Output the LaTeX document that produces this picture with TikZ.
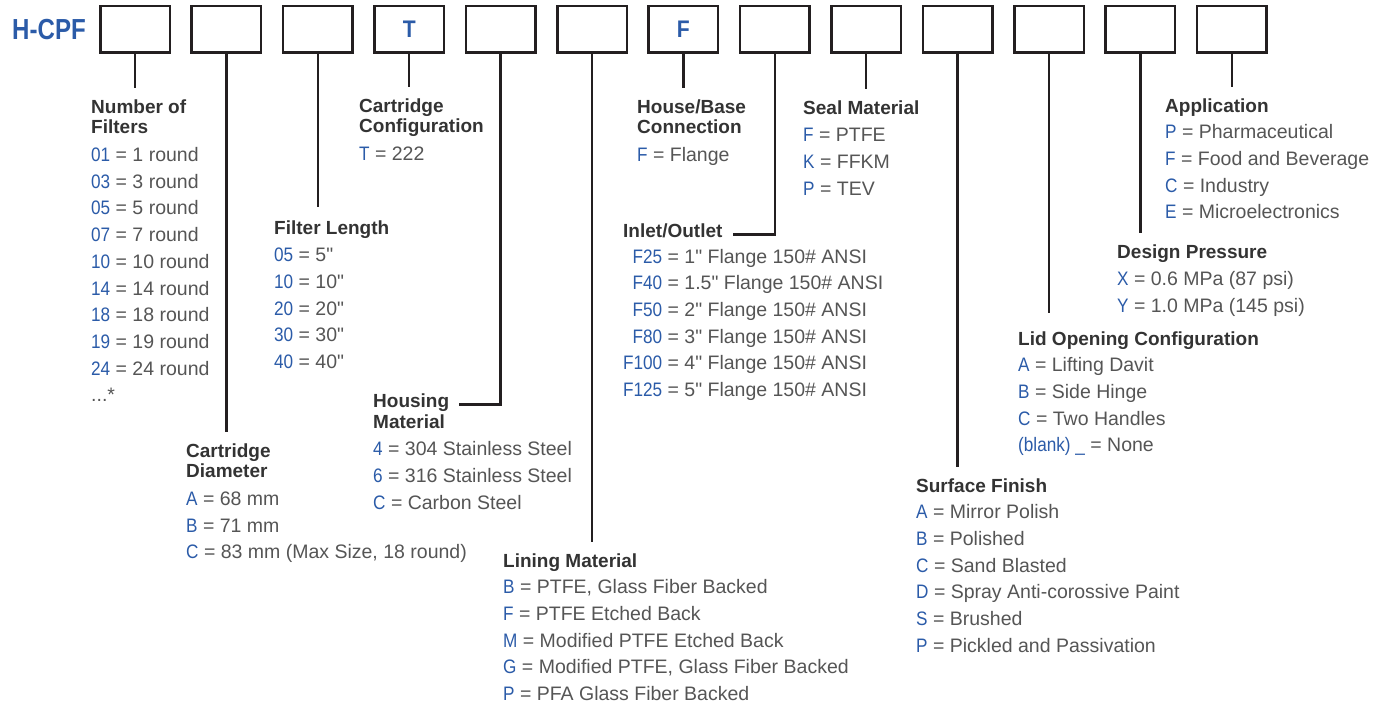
\documentclass[tikz,border=0pt]{standalone}
\usepackage{fontspec}
\setmainfont{Liberation Sans}
\newfontfamily\quotefont{Liberation Sans}
\usepackage{graphicx}

\definecolor{codeblue}{HTML}{2B5BA8}
\definecolor{headgray}{HTML}{333333}
\definecolor{textgray}{HTML}{555555}
\definecolor{linegray}{HTML}{231F20}

\newcommand{\cd}[1]{\textcolor{codeblue}{\scalebox{0.88}[1]{#1}}}
\newcommand{\hd}[1]{{\color{headgray}\fontsize{19}{26.7}\bfseries #1}}
\newcommand{\rcd}[1]{\makebox[39pt][r]{\cd{#1}}}
\newcommand{\inch}{{\quotefont"}}

\tikzset{
  slot/.style={draw=linegray,line width=2.5pt,minimum width=69.5pt,minimum height=46.5pt,inner sep=0pt},
  slotcode/.style={text=codeblue,font=\fontsize{24}{24}\bfseries},
  block/.style={anchor=north west,align=left,inner sep=0pt,text=textgray,font=\fontsize{19.5}{26.7}\selectfont},
  lead/.style={draw=linegray,line width=2.3pt,shorten >=6.5pt}
}

\begin{document}
\begin{tikzpicture}[x=1pt,y=-1pt]
  \useasboundingbox (0,0) rectangle (1388,706);

  % Title
  \node[text=codeblue,font=\fontsize{29}{29}\bfseries] (hcpf) at (49,30) {\scalebox{0.83}[1]{H-CPF}};

  % Code boxes
  \node[slot] (b1) at (135,29.5) {};
  \node[slot] (b2) at (226.4,29.5) {};
  \node[slot] (b3) at (317.8,29.5) {};
  \node[slot,slotcode] (b4) at (409.2,29.5) {\scalebox{0.88}[1]{T}};
  \node[slot] (b5) at (500.6,29.5) {};
  \node[slot] (b6) at (592,29.5) {};
  \node[slot,slotcode] (b7) at (683.4,29.5) {\scalebox{0.88}[1]{F}};
  \node[slot] (b8) at (774.8,29.5) {};
  \node[slot] (b9) at (866.2,29.5) {};
  \node[slot] (b10) at (957.6,29.5) {};
  \node[slot] (b11) at (1049,29.5) {};
  \node[slot] (b12) at (1140.4,29.5) {};
  \node[slot] (b13) at (1231.8,29.5) {};

  % Option lists (top of each node = first baseline - 18.7)
  \begin{scope}[every node/.style={block}]
    \node (nof) at (91,94.3) {\strut\hd{Number of}\\[-6pt]\hd{Filters}\\[1pt]
      \cd{01} = 1 round\\ \cd{03} = 3 round\\ \cd{05} = 5 round\\
      \cd{07} = 7 round\\ \cd{10} = 10 round\\ \cd{14} = 14 round\\
      \cd{18} = 18 round\\ \cd{19} = 19 round\\ \cd{24} = 24 round\\ ...*};
    \node (cdia) at (186,438.3) {\strut\hd{Cartridge}\\[-6pt]\hd{Diameter}\\[1pt]
      \cd{A} = 68 mm\\ \cd{B} = 71 mm\\ \cd{C} = 83 mm (Max Size, 18 round)};
    \node (flen) at (274,215.3) {\strut\hd{Filter Length}\\[1pt]
      \cd{05} = 5\inch\\ \cd{10} = 10\inch\\ \cd{20} = 20\inch\\ \cd{30} = 30\inch\\ \cd{40} = 40\inch};
    \node (ccfg) at (359,93.3) {\strut\hd{Cartridge}\\[-6pt]\hd{Configuration}\\[1pt]
      \cd{T} = 222};
    \node (hmat) at (373,388.3) {\strut\hd{Housing}};
    \node (hmatl) at (373,409.3) {\strut\hd{Material}\\[1pt]
      \cd{4} = 304 Stainless Steel\\ \cd{6} = 316 Stainless Steel\\ \cd{C} = Carbon Steel};
    \node (lmat) at (503,548.3) {\strut\hd{Lining Material}\\
      \cd{B} = PTFE, Glass Fiber Backed\\ \cd{F} = PTFE Etched Back\\
      \cd{M} = Modified PTFE Etched Back\\ \cd{G} = Modified PTFE, Glass Fiber Backed\\
      \cd{P} = PFA Glass Fiber Backed};
    \node (hbc) at (637,94.3) {\strut\hd{House/Base}\\[-6pt]\hd{Connection}\\[1pt]
      \cd{F} = Flange};
    \node (inout) at (623,218.3) {\strut\hd{Inlet/Outlet}};
    \node (inoutl) at (623,244.3) {\strut\rcd{F25} = 1\inch{} Flange 150\# ANSI\\
      \rcd{F40} = 1.5\inch{} Flange 150\# ANSI\\ \rcd{F50} = 2\inch{} Flange 150\# ANSI\\
      \rcd{F80} = 3\inch{} Flange 150\# ANSI\\ \rcd{F100} = 4\inch{} Flange 150\# ANSI\\
      \rcd{F125} = 5\inch{} Flange 150\# ANSI};
    \node (smat) at (803,95.3) {\strut\hd{Seal Material}\\[1pt]
      \cd{F} = PTFE\\ \cd{K} = FFKM\\ \cd{P} = TEV};
    \node (sfin) at (916,473.3) {\strut\hd{Surface Finish}\\
      \cd{A} = Mirror Polish\\ \cd{B} = Polished\\ \cd{C} = Sand Blasted\\
      \cd{D} = Spray Anti-corossive Paint\\ \cd{S} = Brushed\\
      \cd{P} = Pickled and Passivation};
    \node (lid) at (1018,326.3) {\strut\hd{Lid Opening Configuration}\\
      \cd{A} = Lifting Davit\\ \cd{B} = Side Hinge\\ \cd{C} = Two Handles\\
      \cd{(blank) \_} = None};
    \node (dpr) at (1117,239.3) {\strut\hd{Design Pressure}\\[1pt]
      \cd{X} = 0.6 MPa (87 psi)\\ \cd{Y} = 1.0 MPa (145 psi)};
    \node (app) at (1165,93.3) {\strut\hd{Application}\\
      \cd{P} = Pharmaceutical\\ \cd{F} = Food and Beverage\\
      \cd{C} = Industry\\ \cd{E} = Microelectronics};
  \end{scope}

  % Leads
  \begin{scope}[every path/.style={lead}]
    \path (b1.south) -- (b1.south |- nof.north);
    \path (b2.south) -- (b2.south |- cdia.north);
    \path[shorten >=8.5pt] (b3.south) -- (b3.south |- flen.north);
    \path (b4.south) -- (b4.south |- ccfg.north);
    \path[shorten >=10pt] (b5.south) |- (hmat.mid east);
    \path (b6.south) -- (b6.south |- lmat.north);
    \path (b7.south) -- (b7.south |- hbc.north);
    \path[shorten >=10pt] (b8.south) |- (inout.mid east);
    \path (b9.south) -- (b9.south |- smat.north);
    \path (b10.south) -- (b10.south |- sfin.north);
    \path[shorten >=13.5pt] (b11.south) -- (b11.south |- lid.north);
    \path (b12.south) -- (b12.south |- dpr.north);
    \path (b13.south) -- (b13.south |- app.north);
  \end{scope}

\end{tikzpicture}
\end{document}
